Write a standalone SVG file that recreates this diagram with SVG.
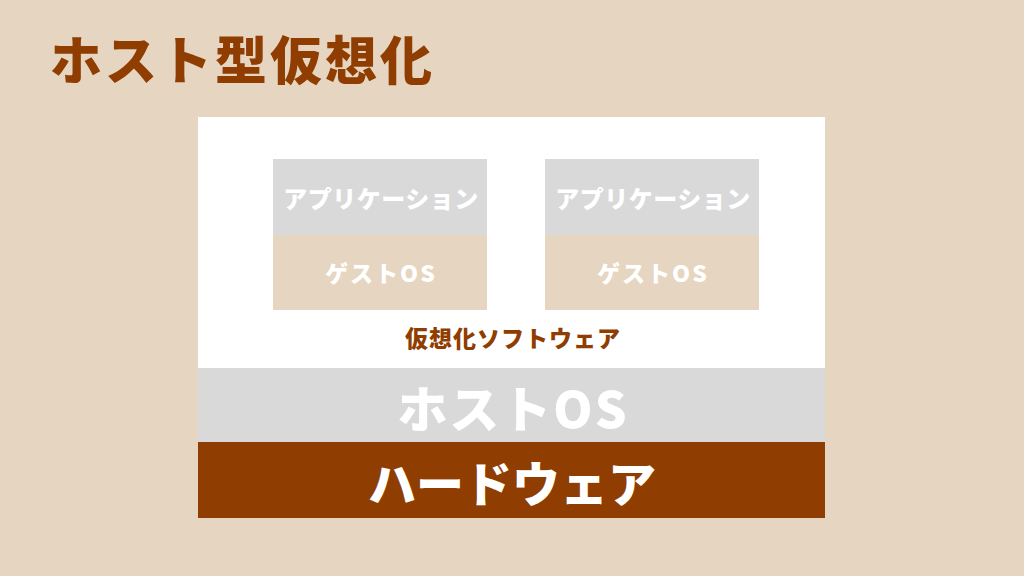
<svg xmlns="http://www.w3.org/2000/svg" width="1024" height="576" viewBox="0 0 1024 576">
<style>
text{font-family:"Noto Sans CJK JP","Noto Sans",sans-serif;font-weight:900;text-anchor:middle;dominant-baseline:central}
.w{fill:#ffffff}
.b{fill:#8f3d00}
.g{fill:#d9d9d9}
.k{fill:#e6d6c1}
</style>
<rect width="1024" height="576" fill="#e6d6c1"/>
<g id="title"><text x="50" y="57" class="b" style="font-size:52px;letter-spacing:3px;text-anchor:start">ホスト型仮想化</text></g>
<g id="virt"><rect x="198" y="117" width="627" height="251" class="w"/>
<text x="513" y="337" class="b" style="font-size:23px;letter-spacing:1px">仮想化ソフトウェア</text></g>
<g id="vm1">
<rect x="273" y="159" width="214" height="76" class="g"/>
<text x="381" y="197" class="w" style="font-size:24px;letter-spacing:0.5px">アプリケーション</text>
<rect x="273" y="235" width="214" height="75" class="k"/>
<text x="381" y="272" class="w" style="font-size:23px;letter-spacing:2px">ゲストOS</text>
</g>
<g id="vm2">
<rect x="545" y="159" width="214" height="76" class="g"/>
<text x="653" y="197" class="w" style="font-size:24px;letter-spacing:0.5px">アプリケーション</text>
<rect x="545" y="235" width="214" height="75" class="k"/>
<text x="653" y="272" class="w" style="font-size:23px;letter-spacing:2px">ゲストOS</text>
</g>
<g id="hostos"><rect x="198" y="368" width="627" height="74" class="g"/>
<text x="513" y="406" class="w" style="font-size:50px;letter-spacing:2px">ホストOS</text></g>
<g id="hw"><rect x="198" y="442" width="627" height="76" class="b"/>
<text x="512" y="481" class="w" style="font-size:48px">ハードウェア</text></g>
<g id="connectors"/>
</svg>
